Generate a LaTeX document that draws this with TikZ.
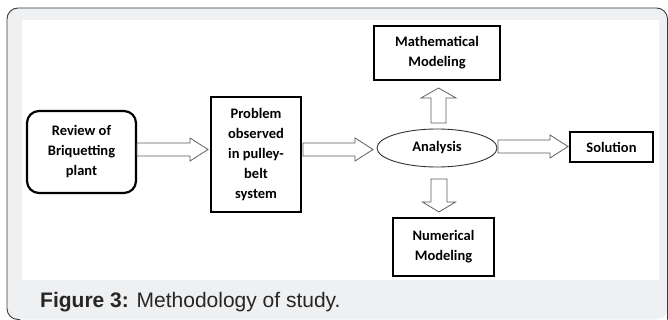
\documentclass[tikz,border=0pt]{standalone}
\usepackage{fontspec}
\setmainfont{Liberation Sans}
\newfontfamily\carl{Carlito}
\usetikzlibrary{shapes.geometric}
\definecolor{framegray}{RGB}{239,240,242}
\definecolor{framedark}{RGB}{60,60,60}
\definecolor{arrgray}{RGB}{95,95,95}
\tikzset{
  box/.style={draw=black, line width=1.6pt, inner sep=0pt, align=center,
    font=\carl\bfseries\fontsize{14.5}{20}\selectfont},
  roundbox/.style={box, line width=2.2pt, rounded corners=12pt},
  ellbox/.style={draw=black!80, line width=0.9pt, ellipse, inner sep=0pt, align=center,
    font=\carl\bfseries\fontsize{14.5}{20}\selectfont},
  blk/.style={draw=arrgray, line width=0.8pt, fill=white, line join=miter},
}
% horizontal block arrow: x start, head base x, tip x, y centre, shaft half, head half
\newcommand\harr[6]{\draw[blk] (#1,#4-#5) -- (#2,#4-#5) -- (#2,#4-#6) -- (#3,#4) -- (#2,#4+#6) -- (#2,#4+#5) -- (#1,#4+#5) -- cycle;}
% vertical block arrow: y start, head base y, tip y, x centre, shaft half, head half
\newcommand\varr[6]{\draw[blk] (#4-#5,#1) -- (#4-#5,#2) -- (#4-#6,#2) -- (#4,#3) -- (#4+#6,#2) -- (#4+#5,#2) -- (#4+#5,#1) -- cycle;}
\begin{document}
\begin{tikzpicture}[x=1pt,y=-1pt]
\useasboundingbox (0,0) rectangle (668,320);
\fill[white] (0,0) rectangle (668,320);
% frame
\fill[framegray, rounded corners=11pt] (7,8) rectangle (667.5,319.5);
\draw[framedark, line width=0.9pt, rounded corners=11pt] (20,319.5) -- (7,319.5) -- (7,8) -- (667.5,8) -- (667.5,319.5);
\fill[white] (22,20) rectangle (659,280);
% nodes
\node[roundbox, minimum width=109pt, minimum height=82pt] (rev) at (81.5,152) {Review of\\Briquetting\\plant};
\node[box, minimum width=90pt, minimum height=115pt] (prob) at (256,154.5) {Problem\\observed\\in pulley-\\belt\\system};
\node[ellbox, minimum width=120pt, minimum height=38pt] (ana) at (437,148) {Analysis};
\node[box, minimum width=126pt, minimum height=54pt] (math) at (437,53) {Mathematical\\Modeling};
\node[box, minimum width=101pt, minimum height=58pt] (num) at (443.5,247) {Numerical\\Modeling};
\node[box, minimum width=83pt, minimum height=30pt] (sol) at (611.5,147) {Solution};
% block arrows
\harr{137}{190}{208}{149.5}{6.5}{11.5}
\harr{303}{355}{373}{149.5}{6.5}{11.5}
\harr{498}{550}{568}{146.5}{6.5}{11.5}
\varr{123}{98}{88}{438.5}{7.5}{17.5}
\varr{179}{202}{212}{439}{8}{16.5}
% caption
\node[anchor=base west, inner sep=0pt, text=black!85, font=\fontsize{21}{24}\selectfont] (cap) at (40,307) {\textbf{Figure 3:} Methodology of study.};
\end{tikzpicture}
\end{document}
